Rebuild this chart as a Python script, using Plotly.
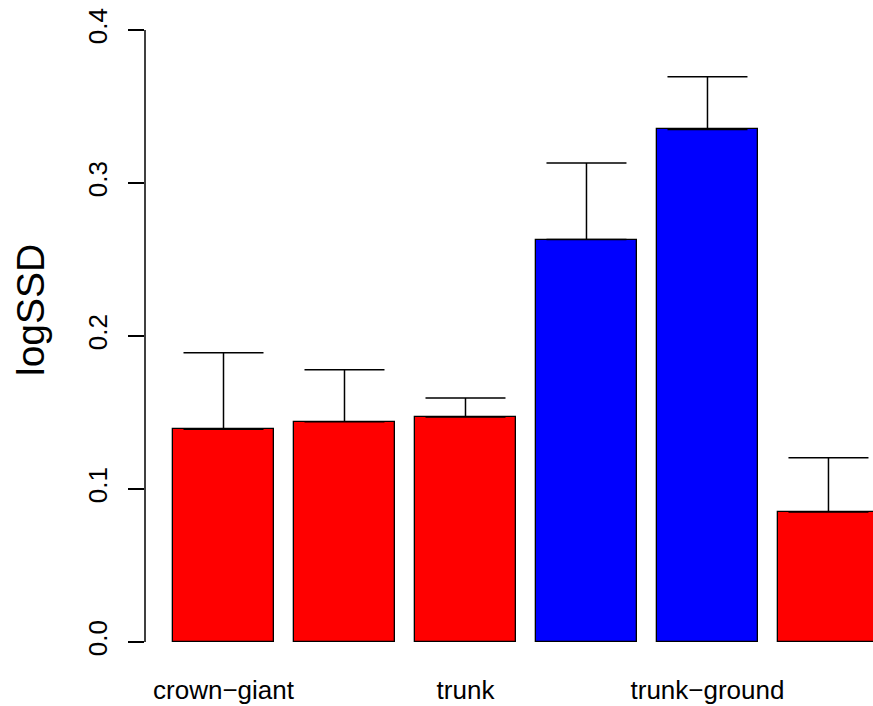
import plotly.graph_objects as go

# Bar heights (logSSD) and upper error limits for the six groups
values = [0.139, 0.144, 0.147, 0.263, 0.335, 0.085]
upper = [0.189, 0.178, 0.1595, 0.313, 0.3695, 0.1205]
bar_colors = ["#FF0000", "#FF0000", "#FF0000", "#0000FF", "#0000FF", "#FF0000"]

# Group labels that are printed under the bars (others are skipped for space)
label_text = ["crown−giant", "trunk", "trunk−ground"]
label_index = [0, 2, 4]

y_ticks = [0.0, 0.1, 0.2, 0.3, 0.4]
y_tick_text = ["0.0", "0.1", "0.2", "0.3", "0.4"]

# barplot-style positions: width 1, spacing 0.2
xpos = [0.7 + 1.2 * i for i in range(len(values))]
err_plus = [u - v for u, v in zip(upper, values)]

FONT = "Liberation Sans, Arial, Helvetica, sans-serif"

fig = go.Figure()
fig.add_trace(go.Bar(
    x=xpos,
    y=values,
    width=1.0,
    marker=dict(color=bar_colors, line=dict(color="black", width=1.3)),
    error_y=dict(
        type="data",
        symmetric=False,
        array=err_plus,
        arrayminus=[0] * len(values),
        color="black",
        thickness=1.5,
        width=40,
    ),
    showlegend=False,
))

# y axis line spans only the tick range
fig.add_shape(type="line", xref="paper", yref="y",
              x0=0, x1=0, y0=0, y1=0.4,
              line=dict(color="black", width=1.5))

fig.add_annotation(text="logSSD", textangle=-90,
                   xref="paper", yref="paper",
                   x=(30 - 145) / 728, y=(660 - 310) / 640,
                   xanchor="center", yanchor="middle",
                   showarrow=False,
                   font=dict(family=FONT, size=39, color="black"))

fig.update_layout(
    width=873, height=706,
    margin=dict(l=145, r=0, t=20, b=46),
    plot_bgcolor="white", paper_bgcolor="white",
    bargap=0,
    font=dict(family=FONT, color="black"),
    xaxis=dict(
        range=[-0.0785, 7.1416],
        tickmode="array",
        tickvals=[xpos[i] for i in label_index],
        ticktext=label_text,
        ticks="",
        showline=False, showgrid=False, zeroline=False,
        tickfont=dict(family=FONT, size=26, color="black"),
        ticklabelstandoff=12,
    ),
    yaxis=dict(
        range=[-0.011765, 0.406535],
        tickmode="array",
        tickvals=y_ticks,
        ticktext=y_tick_text,
        tickangle=-90,
        ticks="outside", ticklen=16, tickwidth=1.5, tickcolor="black",
        showline=False, showgrid=False, zeroline=False,
        tickfont=dict(family=FONT, size=26, color="black"),
        ticklabelstandoff=11,
    ),
)

fig.write_html("out.html")
